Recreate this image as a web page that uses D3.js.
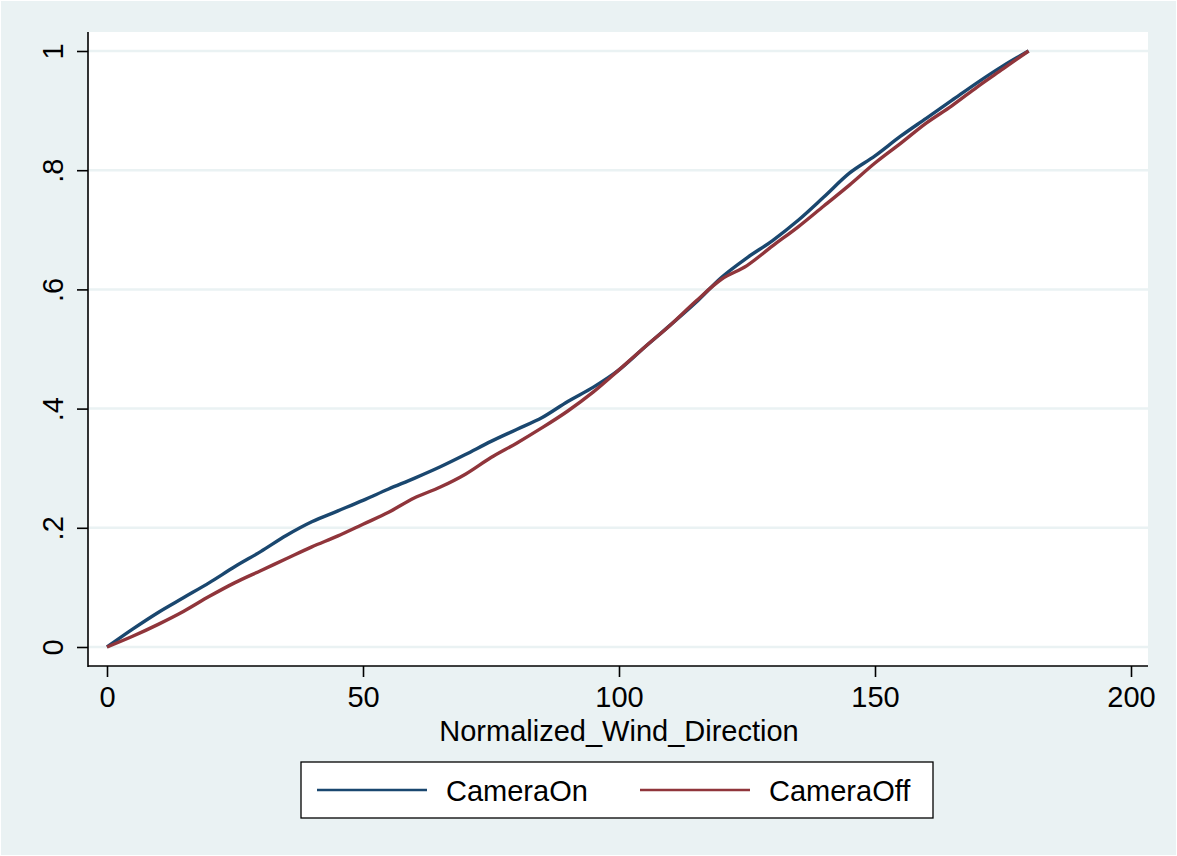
<!DOCTYPE html>
<html>
<head>
<meta charset="utf-8">
<script src="https://cdn.jsdelivr.net/npm/d3@7"></script>
<style>
  body { margin: 0; background: #fff; }
  text { font-family: "Liberation Sans", Arial, Helvetica, sans-serif; fill: #000; }
</style>
</head>
<body>
<svg id="chart"></svg>
<script>
// wind direction (x) and cumulative share for each group
var windDir = [0,5,10,15,20,25,30,35,40,45,50,55,60,65,70,75,80,85,90,95,100,105,110,115,120,125,130,135,140,145,150,155,160,165,170,175,180];
var cameraOn = [0,0.030,0.058,0.083,0.108,0.135,0.160,0.187,0.210,0.228,0.246,0.265,0.283,0.302,0.323,0.345,0.365,0.385,0.412,0.436,0.465,0.503,0.540,0.578,0.620,0.653,0.682,0.716,0.755,0.795,0.824,0.857,0.887,0.917,0.947,0.975,1.0];
var cameraOff = [0,0.018,0.038,0.060,0.085,0.108,0.128,0.148,0.168,0.186,0.206,0.226,0.250,0.268,0.290,0.318,0.342,0.368,0.396,0.428,0.465,0.503,0.540,0.580,0.617,0.640,0.673,0.705,0.740,0.775,0.812,0.845,0.879,0.908,0.940,0.970,1.0];

var xTicks = [0, 50, 100, 150, 200];
var yTicks = [0, 0.2, 0.4, 0.6, 0.8, 1];
var yTickLabels = ["0", ".2", ".4", ".6", ".8", "1"];
var seriesNames = ["CameraOn", "CameraOff"];
var seriesColors = ["#1a476f", "#90353b"];

var svgWidth = 1177, svgHeight = 856;
var plotLeft = 88, plotRight = 1148, plotTop = 32, plotBottom = 666;

var svg = d3.select("#chart")
    .attr("width", svgWidth)
    .attr("height", svgHeight);

// graph region
svg.append("rect")
    .attr("x", 1).attr("y", 1)
    .attr("width", svgWidth - 2).attr("height", svgHeight - 2)
    .style("fill", "#eaf2f3");

// plot region
svg.append("rect")
    .attr("x", plotLeft).attr("y", plotTop)
    .attr("width", plotRight - plotLeft).attr("height", plotBottom - plotTop)
    .style("fill", "#fff");

var x = d3.scaleLinear().domain([0, 200]).range([107, 1131]);
var y = d3.scaleLinear().domain([0, 1]).range([647, 51]);

// gridlines
svg.append("g").selectAll("line")
    .data(yTicks)
    .enter().append("line")
    .attr("x1", plotLeft).attr("x2", plotRight)
    .attr("y1", d => y(d)).attr("y2", d => y(d))
    .style("stroke", "#eaf2f3")
    .style("stroke-width", 2.5);

// lines
var line = d3.line()
    .x((d, i) => x(windDir[i]))
    .y(d => y(d))
    .curve(d3.curveMonotoneX);

[cameraOn, cameraOff].forEach(function(series, k) {
    svg.append("path")
        .datum(series)
        .attr("d", line)
        .style("fill", "none")
        .style("stroke", seriesColors[k])
        .style("stroke-width", 3.4)
        .style("stroke-linejoin", "round");
});

// x axis
var x_axis = d3.axisBottom(x)
    .tickValues(xTicks)
    .tickSize(11)
    .tickSizeOuter(0)
    .tickPadding(10);

var gx = svg.append("g")
    .attr("transform", "translate(0," + plotBottom + ")")
    .call(x_axis);
gx.select(".domain").remove();
gx.selectAll(".tick line").style("stroke", "#000").style("stroke-width", 1.6);
gx.selectAll(".tick text")
    .attr("y", 41).attr("dy", null)
    .style("font-size", "29px");

// y axis
var y_axis = d3.axisLeft(y)
    .tickValues(yTicks)
    .tickFormat((d, i) => yTickLabels[i])
    .tickSize(11)
    .tickSizeOuter(0);

var gy = svg.append("g")
    .attr("transform", "translate(" + plotLeft + ",0)")
    .call(y_axis);
gy.select(".domain").remove();
gy.selectAll(".tick line").style("stroke", "#000").style("stroke-width", 1.6);
gy.selectAll(".tick text")
    .attr("x", null).attr("dy", null)
    .attr("text-anchor", "middle")
    .attr("transform", "translate(-25,0)rotate(-90)")
    .style("font-size", "29px");

// axis lines
svg.append("line")
    .attr("x1", plotLeft).attr("x2", plotLeft)
    .attr("y1", plotTop).attr("y2", plotBottom + 1)
    .style("stroke", "#000").style("stroke-width", 1.6);
svg.append("line")
    .attr("x1", plotLeft).attr("x2", plotRight)
    .attr("y1", plotBottom).attr("y2", plotBottom)
    .style("stroke", "#000").style("stroke-width", 1.6);

svg.append("text").text("Normalized_Wind_Direction")
    .attr("text-anchor", "middle")
    .attr("x", x(100)).attr("y", 741)
    .style("font-size", "29px");

// legend
var legend = svg.append("g");
legend.append("rect")
    .attr("x", 301).attr("y", 762)
    .attr("width", 632).attr("height", 56)
    .style("fill", "#fff")
    .style("stroke", "#000")
    .style("stroke-width", 1.3);

var legendX = [317, 640];
seriesNames.forEach(function(name, k) {
    legend.append("line")
        .attr("x1", legendX[k]).attr("x2", legendX[k] + 110)
        .attr("y1", 790).attr("y2", 790)
        .style("stroke", seriesColors[k])
        .style("stroke-width", 2.5);
    legend.append("text").text(name)
        .attr("x", legendX[k] + 129).attr("y", 801)
        .style("font-size", "29px");
});
</script>
</body>
</html>
